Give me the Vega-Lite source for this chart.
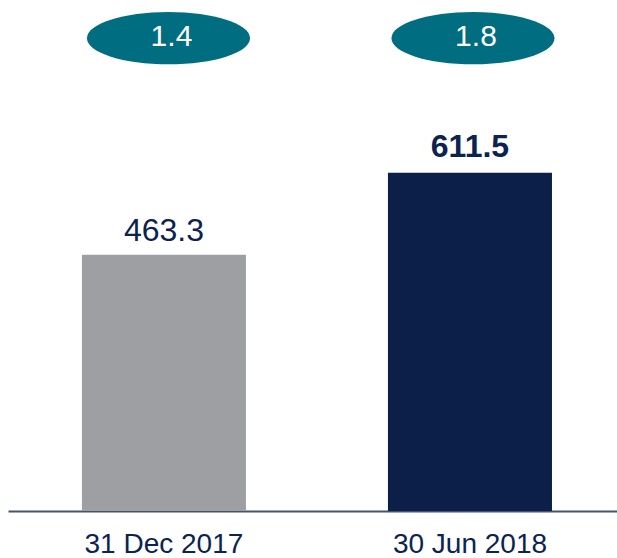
{
  "$schema": "https://vega.github.io/schema/vega-lite/v6.json",
  "width": 609,
  "height": 501,
  "autosize": {"type": "none"},
  "padding": {"left": 8, "top": 10, "right": 0, "bottom": 47},
  "background": "white",
  "config": {"view": {"stroke": null}, "font": "Liberation Sans"},
  "data": {"values": [
    {"period": "31 Dec 2017", "value": 463.3, "ratio": "1.4", "label": "463.3"},
    {"period": "30 Jun 2018", "value": 611.5, "ratio": "1.8", "label": "611.5"}
  ]},
  "resolve": {"scale": {"x": "independent"}},
  "layer": [
    {
      "encoding": {
        "x": {"field": "period", "type": "nominal", "sort": null,
          "scale": {"paddingInner": 0.464, "paddingOuter": 0.227, "align": 0.532},
          "axis": {"title": null, "ticks": false, "labelAngle": 0, "labelFontSize": 28, "labelColor": "#0c2350", "labelPadding": 19, "domainColor": "#44546a", "domainWidth": 2, "grid": false}},
        "y": {"field": "value", "type": "quantitative", "scale": {"domain": [0, 906]}, "axis": null}
      },
      "layer": [
        {"mark": {"type": "bar"},
         "encoding": {"color": {"field": "period", "type": "nominal", "sort": null, "scale": {"range": ["#9d9fa2", "#0b1f48"]}, "legend": null}}},
        {"transform": [{"filter": "datum.period == '31 Dec 2017'"}],
         "mark": {"type": "text", "baseline": "alphabetic", "dy": -14, "fontSize": 32, "color": "#0c2350"},
         "encoding": {"text": {"field": "label"}}},
        {"transform": [{"filter": "datum.period == '30 Jun 2018'"}],
         "mark": {"type": "text", "baseline": "alphabetic", "dy": -16, "fontSize": 32, "fontWeight": "bold", "color": "#0c2350"},
         "encoding": {"text": {"field": "label"}}}
      ]
    },
    {
      "encoding": {
        "x": {"field": "period", "type": "nominal", "sort": null,
          "scale": {"paddingInner": 0.5, "paddingOuter": 0.282, "align": 0.527}, "axis": null},
        "y": {"datum": 855, "type": "quantitative", "scale": {"domain": [0, 906]}}
      },
      "layer": [
        {"mark": {"type": "point", "filled": true, "opacity": 1, "color": "#006d80",
          "shape": "M -1 0 A 1 0.32 0 1 1 1 0 A 1 0.32 0 1 1 -1 0 Z", "size": 26569}},
        {"mark": {"type": "text", "baseline": "middle", "dy": -1, "dx": 3, "fontSize": 30, "color": "white"},
         "encoding": {"text": {"field": "ratio"}}}
      ]
    }
  ]
}
